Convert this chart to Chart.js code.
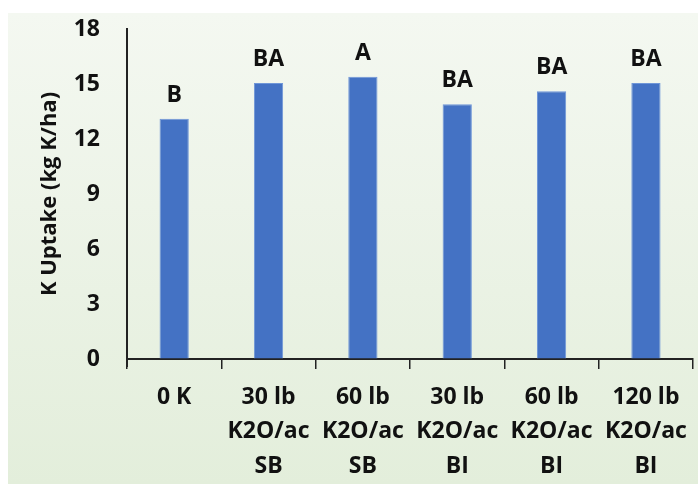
<!DOCTYPE html>
<html>
<head>
<meta charset="utf-8">
<script src="https://cdn.jsdelivr.net/npm/chart.js@4.4.1/dist/chart.umd.min.js"></script>
<style>
  html, body { margin: 0; padding: 0; background: #fff; }
  #wrap { width: 698px; height: 484px; }
</style>
</head>
<body>
<div id="wrap"><canvas id="uptake" width="698" height="484"></canvas></div>
<script>
const treatments = [
	['0 K'],
	['30 lb', 'K2O/ac', 'SB'],
	['60 lb', 'K2O/ac', 'SB'],
	['30 lb', 'K2O/ac', 'BI'],
	['60 lb', 'K2O/ac', 'BI'],
	['120 lb', 'K2O/ac', 'BI']
];
const kUptake = [13.1, 15.05, 15.4, 13.9, 14.6, 15.05];
const letters = ['B', 'BA', 'A', 'BA', 'BA', 'BA'];
const yTicks = [0, 3, 6, 9, 12, 15, 18];

const fontFamily = '"Open Sans", sans-serif';

// light green panel behind the plot
const panelBg = {
	id: 'panelBg',
	beforeDraw(chart) {
		const c = chart.ctx;
		const g = c.createLinearGradient(0, 13, 0, chart.height);
		g.addColorStop(0, '#f4f8f1');
		g.addColorStop(1, '#e3eedb');
		c.save();
		c.fillStyle = g;
		c.fillRect(8, 13, chart.width - 8, chart.height - 13);
		c.restore();
	}
};

// significance letters over each bar, plus the short stub of the y axis below zero
const barLetters = {
	id: 'barLetters',
	afterDatasetsDraw(chart) {
		const c = chart.ctx;
		const meta = chart.getDatasetMeta(0);
		const area = chart.chartArea;
		c.save();
		c.strokeStyle = '#222';
		c.lineWidth = 2;
		c.beginPath();
		c.moveTo(area.left, area.bottom);
		c.lineTo(area.left, area.bottom + 8);
		c.stroke();
		c.font = 'bold 23px ' + fontFamily;
		c.fillStyle = '#111';
		c.textAlign = 'center';
		c.textBaseline = 'alphabetic';
		meta.data.forEach((bar, i) => {
			c.fillText(letters[i], bar.x, bar.y - 17);
		});
		c.restore();
	}
};

const ctx = document.getElementById('uptake').getContext('2d');

let uptakeChart = new Chart(ctx, {
	type: 'bar',
	data: {
		labels: treatments,
		datasets: [
			{
				data: kUptake,
				backgroundColor: '#4472c4',
				borderColor: '#6f96d8',
				borderWidth: 1,
				barPercentage: 0.31,
				categoryPercentage: 1
			}
		]
	},
	options: {
		responsive: false,
		animation: false,
		layout: {
			padding: { top: 29, left: 8, right: 1, bottom: 0 }
		},
		plugins: {
			legend: { display: false },
			tooltip: { enabled: false }
		},
		scales: {
			x: {
				grid: {
					offset: true,
					drawOnChartArea: false,
					tickLength: 10,
					color: '#222',
					lineWidth: 1.5
				},
				border: { color: '#222', width: 2 },
				ticks: {
					color: '#111',
					padding: 11,
					maxRotation: 0,
					autoSkip: false,
					font: { family: fontFamily, size: 23, weight: 'bold', lineHeight: 1.5 }
				},
				afterFit: (s) => { s.height = 125; }
			},
			y: {
				min: 0,
				max: 18,
				afterBuildTicks: (s) => { s.ticks = yTicks.map((v) => ({ value: v })); },
				// invisible tick marks keep the labels clear of the axis line
				grid: {
					display: true,
					drawOnChartArea: false,
					drawTicks: true,
					tickLength: 23,
					tickColor: 'rgba(0,0,0,0)'
				},
				border: { color: '#222', width: 2 },
				ticks: {
					color: '#111',
					padding: 4,
					font: { family: fontFamily, size: 23, weight: 'bold' }
				},
				title: {
					display: true,
					text: 'K Uptake (kg K/ha)',
					color: '#111',
					padding: { top: 29, bottom: 0 },
					font: { family: fontFamily, size: 22, weight: 'bold' }
				},
				afterFit: (s) => { s.width = 119; }
			}
		}
	},
	plugins: [panelBg, barLetters]
});
</script>
</body>
</html>
